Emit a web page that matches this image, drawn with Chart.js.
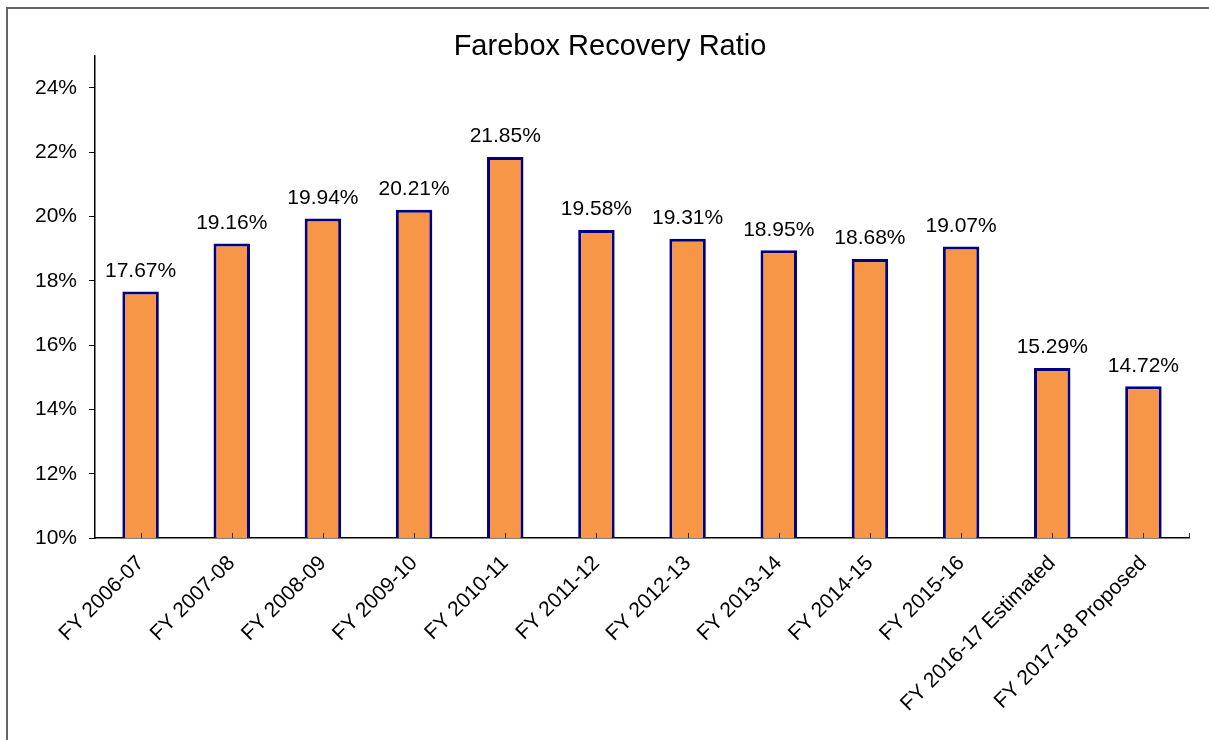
<!DOCTYPE html>
<html>
<head>
<meta charset="utf-8">
<script src="https://cdn.jsdelivr.net/npm/chart.js@4"></script>
<style>
  html, body { margin: 0; padding: 0; background: #fff; overflow: hidden; }
  #frame { position: absolute; left: 6px; top: 7px; width: 1300px; height: 800px;
           border-top: 2px solid #666; border-left: 2px solid #666; }
  #wrap { position: absolute; left: 0; top: 0; width: 1209px; height: 740px; }
</style>
</head>
<body>
<div id="frame"></div>
<div id="wrap"><canvas id="ratioChart" width="1209" height="740"></canvas></div>
<script>
const categories = ['FY 2006-07', 'FY 2007-08', 'FY 2008-09', 'FY 2009-10', 'FY 2010-11', 'FY 2011-12',
    'FY 2012-13', 'FY 2013-14', 'FY 2014-15', 'FY 2015-16', 'FY 2016-17 Estimated', 'FY 2017-18 Proposed'];
const ratios = [17.67, 19.16, 19.94, 20.21, 21.85, 19.58, 19.31, 18.95, 18.68, 19.07, 15.29, 14.72];
const yTicks = [10, 12, 14, 16, 18, 20, 22, 24];
const yMin = 10;
const yMax = 25;

const FONT = '"Liberation Sans", Arial, sans-serif';

// value labels above each bar
const valueLabels = {
    id: 'valueLabels',
    afterDatasetsDraw(chart) {
        const ctx = chart.ctx;
        const meta = chart.getDatasetMeta(0);
        ctx.save();
        ctx.font = '21px ' + FONT;
        ctx.fillStyle = '#000';
        ctx.textAlign = 'center';
        ctx.textBaseline = 'bottom';
        meta.data.forEach((bar, i) => {
            ctx.fillText(ratios[i].toFixed(2) + '%', bar.x, bar.y - 10);
        });
        ctx.restore();
    }
};

// small inward tick marks on the category axis
const innerTicks = {
    id: 'innerTicks',
    afterDatasetsDraw(chart) {
        const ctx = chart.ctx;
        const x = chart.scales.x;
        const bottom = chart.chartArea.bottom;
        const spots = x.ticks.map((t, i) => x.getPixelForTick(i));
        spots.push(chart.chartArea.right);
        ctx.save();
        ctx.strokeStyle = '#333';
        ctx.lineWidth = 1;
        ctx.beginPath();
        spots.forEach(px => {
            const p = Math.round(px) + 0.5;
            ctx.moveTo(p, bottom);
            ctx.lineTo(p, bottom - 5);
        });
        ctx.stroke();
        ctx.restore();
    }
};

const ctx = document.getElementById('ratioChart').getContext('2d');
new Chart(ctx, {
    type: 'bar',
    data: {
        labels: categories,
        datasets: [{
            data: ratios,
            backgroundColor: '#F79646',
            borderColor: '#000080',
            borderWidth: 3,
            borderSkipped: false,
            barPercentage: 0.4,
            categoryPercentage: 1.0
        }]
    },
    options: {
        responsive: false,
        animation: false,
        layout: { padding: { left: 31, right: 20, top: 0, bottom: 0 } },
        plugins: {
            legend: { display: false },
            tooltip: { enabled: false },
            title: {
                display: true,
                text: 'Farebox Recovery Ratio',
                color: '#000',
                font: { family: FONT, size: 29, weight: 'normal' },
                padding: { top: 30, bottom: -9 }
            }
        },
        scales: {
            x: {
                grid: { display: false },
                border: { display: true, color: '#000', width: 1.5 },
                ticks: {
                    color: '#000',
                    font: { family: FONT, size: 21 },
                    minRotation: 45,
                    maxRotation: 45,
                    autoSkip: false,
                    padding: 5
                },
                afterFit(scale) { scale.height = 202; }
            },
            y: {
                min: yMin,
                max: yMax,
                grid: { drawOnChartArea: false, drawTicks: true, tickLength: 6, color: '#000', lineWidth: 1 },
                border: { display: true, color: '#000', width: 1.5 },
                ticks: {
                    color: '#000',
                    font: { family: FONT, size: 21 },
                    padding: 12,
                    callback: v => v + '%'
                },
                afterBuildTicks(scale) { scale.ticks = yTicks.map(v => ({ value: v })); },
                afterFit(scale) { scale.width = 64; }
            }
        }
    },
    plugins: [valueLabels, innerTicks]
});
</script>
</body>
</html>
